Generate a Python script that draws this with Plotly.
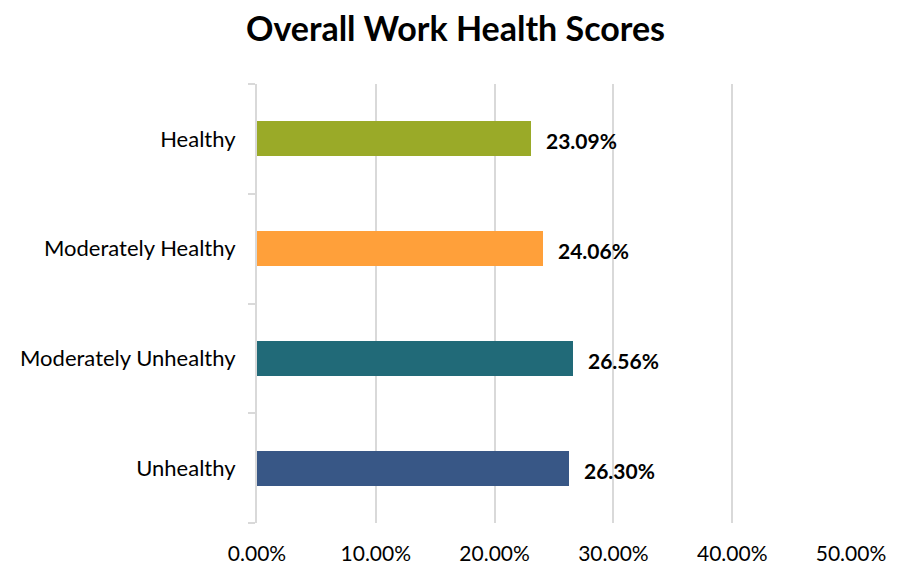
import plotly.graph_objects as go

categories = ["Unhealthy", "Moderately Unhealthy", "Moderately Healthy", "Healthy"]
values = [0.2630, 0.2656, 0.2406, 0.2309]
colors = ["#385786", "#216A78", "#FFA03A", "#9AAA28"]
tick_vals = [0, 0.1, 0.2, 0.3, 0.4, 0.5]
tick_text = ["0.00%", "10.00%", "20.00%", "30.00%", "40.00%", "50.00%"]
title = "Overall Work Health Scores"

FONT = "Lato"

fig = go.Figure()
fig.add_trace(go.Bar(
    x=values, y=categories, orientation="h",
    marker=dict(color=colors, line=dict(width=0)),
    width=0.32, hoverinfo="skip",
))

for v, c in zip(values, categories):
    fig.add_annotation(
        x=v, y=c, text="<b>%.2f%%</b>" % (v * 100), showarrow=False,
        xanchor="left", yanchor="middle", xshift=13, yshift=-2,
        font=dict(family=FONT, size=21, color="#000000"),
    )

fig.update_layout(
    width=902, height=566,
    margin=dict(l=257, r=51, t=84, b=43),
    paper_bgcolor="white", plot_bgcolor="white",
    title=dict(text="<b>%s</b>" % title, x=0.505, xanchor="center", y=0.949, yanchor="middle",
               font=dict(family=FONT, size=34, color="#000000")),
    showlegend=False,
    bargap=0,
)
fig.update_xaxes(
    range=[0, 0.5], tickvals=tick_vals, ticktext=tick_text,
    showgrid=True, gridcolor="#D9D9D9", gridwidth=2,
    zeroline=False, showline=False, ticks="", automargin=False,
    tickfont=dict(family=FONT, size=21, color="#000000"), ticklabelstandoff=16,
)
fig.update_yaxes(
    categoryorder="array", categoryarray=categories,
    showgrid=False, zeroline=False, automargin=False,
    showline=True, linecolor="#D9D9D9", linewidth=2,
    ticks="outside", ticklen=7, tickcolor="#D9D9D9", tickwidth=2,
    tickson="boundaries",
    tickfont=dict(family=FONT, size=22, color="#000000"), ticklabelstandoff=15,
)

fig.write_html("out.html", config={"displayModeBar": False},
               post_script="document.body.style.margin='0';")
